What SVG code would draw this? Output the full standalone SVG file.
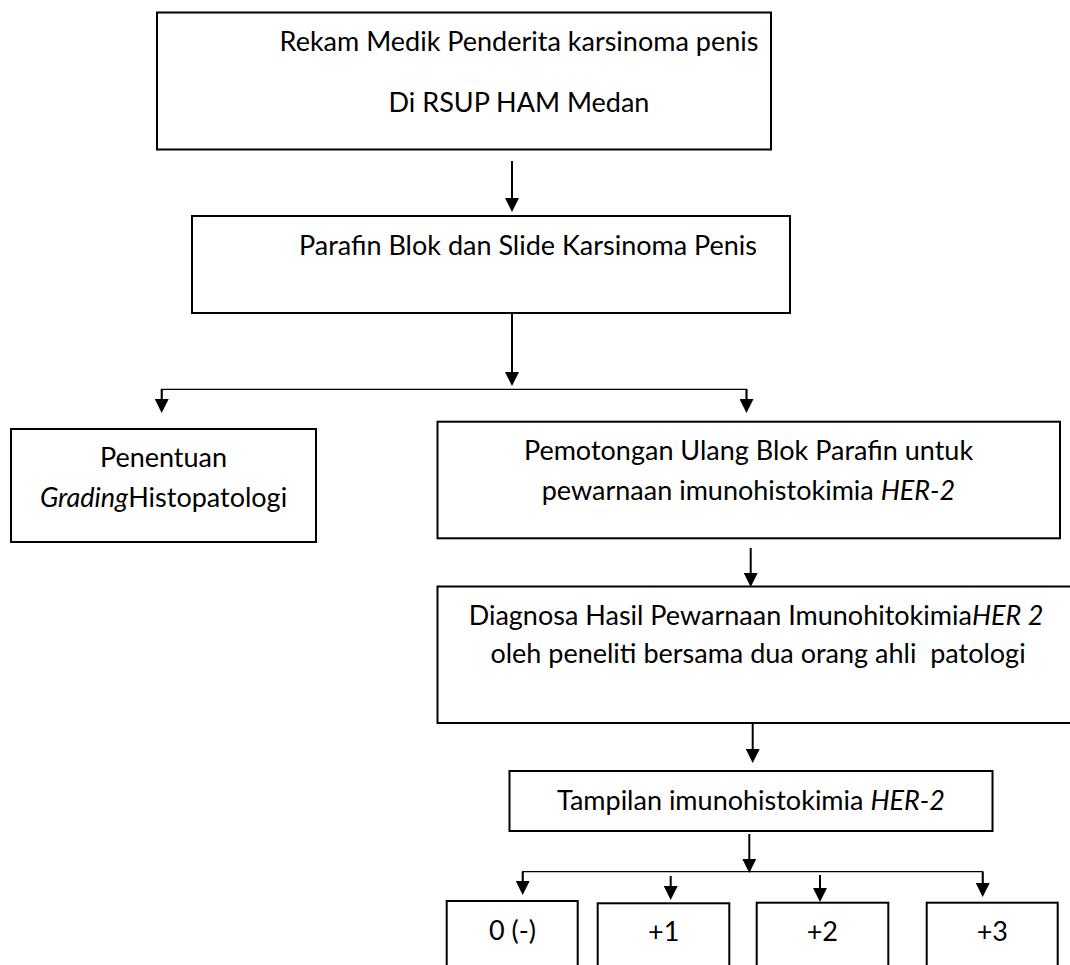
<svg xmlns="http://www.w3.org/2000/svg" width="1070" height="965" viewBox="0 0 1070 965">
<defs>
<style>
.box{fill:#fff;stroke:#000;stroke-width:2}
.t{font-family:Lato,"Liberation Sans",sans-serif;font-size:27px;fill:#000;text-anchor:middle;white-space:pre}
.i{font-style:italic}
.arr{fill:none;stroke:#000;stroke-width:2;marker-end:url(#ah)}
.br{fill:none;stroke:#000;stroke-width:1.3}
</style>
<marker id="ah" viewBox="0 0 14 14" markerUnits="userSpaceOnUse" markerWidth="14" markerHeight="14" refX="2" refY="7" orient="auto">
<path d="M0,0 L14,7 L0,14 z" fill="#000"/>
</marker>
</defs>
<rect width="1070" height="965" fill="#fff"/>
<g id="connectors">
<line class="arr" x1="512" y1="161" x2="512" y2="200"/>
<line class="arr" x1="512" y1="313" x2="512" y2="374"/>
<polyline class="br" points="161.7,401 161.7,389.3 746.5,389.3 746.5,401"/>
<line class="arr" x1="161.7" y1="389" x2="161.7" y2="401"/>
<line class="arr" x1="746.5" y1="389" x2="746.5" y2="401"/>
<line class="arr" x1="750.7" y1="548" x2="750.7" y2="575"/>
<line class="arr" x1="752.7" y1="723" x2="752.7" y2="751"/>
<line class="arr" x1="749.3" y1="834" x2="749.3" y2="861"/>
<polyline class="br" points="522.7,884 522.7,871.7 982.7,871.7 982.7,886"/>
<line class="arr" x1="522.7" y1="872" x2="522.7" y2="883"/>
<line class="arr" x1="670.7" y1="876" x2="670.7" y2="888"/>
<line class="arr" x1="820" y1="875" x2="820" y2="890"/>
<line class="arr" x1="982.7" y1="872" x2="982.7" y2="885"/>
</g>
<g id="node-rekam">
<rect class="box" x="157" y="12.5" width="614" height="137"/>
<text class="t" x="519" y="51">Rekam Medik Penderita karsinoma penis</text>
<text class="t" x="519" y="112">Di RSUP HAM Medan</text>
</g>
<g id="node-parafin">
<rect class="box" x="192" y="216" width="598" height="97"/>
<text class="t" x="528" y="255">Parafin Blok dan Slide Karsinoma Penis</text>
</g>
<g id="node-grading">
<rect class="box" x="11" y="429" width="305" height="113"/>
<text class="t" x="163.5" y="467">Penentuan</text>
<text class="t" x="163.5" y="507"><tspan class="i">Grading</tspan>Histopatologi</text>
</g>
<g id="node-pemotongan">
<rect class="box" x="437.5" y="421.7" width="622.5" height="116.6"/>
<text class="t" x="748.5" y="460">Pemotongan Ulang Blok Parafin untuk</text>
<text class="t" x="748.5" y="500">pewarnaan imunohistokimia <tspan class="i">HER-2</tspan></text>
</g>
<g id="node-diagnosa">
<rect class="box" x="437.5" y="586.5" width="650" height="136.5"/>
<text class="t" x="756" y="625">Diagnosa Hasil Pewarnaan Imunohitokimia<tspan class="i">HER 2</tspan></text>
<text class="t" x="758" y="663">oleh peneliti bersama dua orang ahli  patologi</text>
</g>
<g id="node-tampilan">
<rect class="box" x="509.5" y="771" width="483" height="60"/>
<text class="t" x="751" y="810">Tampilan imunohistokimia <tspan class="i">HER-2</tspan></text>
</g>
<g id="node-0">
<rect class="box" x="446.7" y="901" width="131" height="80"/>
<text class="t" x="512.5" y="940">0 (-)</text>
</g>
<g id="node-1">
<rect class="box" x="597.7" y="903.3" width="131.6" height="80"/>
<text class="t" x="663.7" y="941">+1</text>
</g>
<g id="node-2">
<rect class="box" x="756.7" y="902.7" width="131.6" height="80"/>
<text class="t" x="822.3" y="941">+2</text>
</g>
<g id="node-3">
<rect class="box" x="926.7" y="902.7" width="131" height="80"/>
<text class="t" x="992.3" y="941">+3</text>
</g>
</svg>
